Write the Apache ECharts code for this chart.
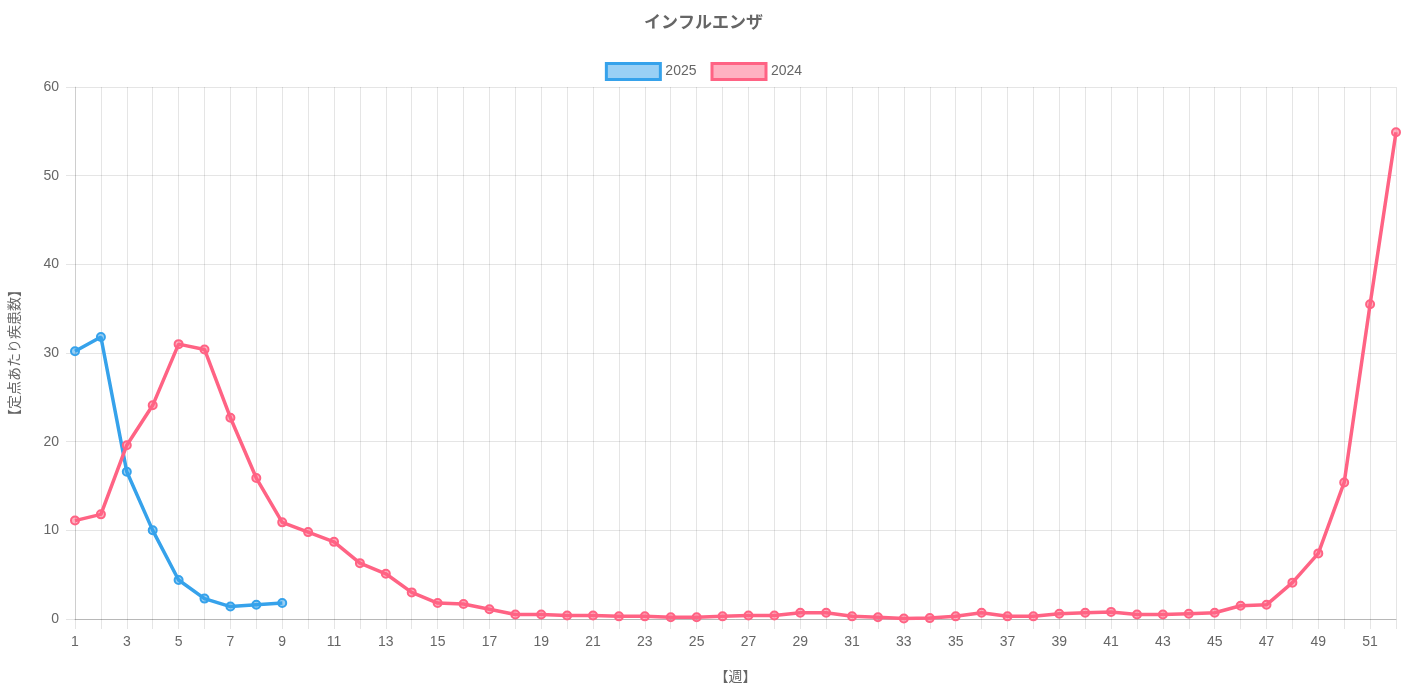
<!DOCTYPE html>
<html>
<head>
<meta charset="utf-8">
<title>インフルエンザ</title>
<script src="https://cdn.jsdelivr.net/npm/echarts@6/dist/echarts.min.js"></script>
<style>
  html, body { margin: 0; padding: 0; background: #fff; overflow: hidden; }
  #chart { width: 1407px; height: 689px; }
</style>
</head>
<body>
<div id="chart"></div>
<script>
// weeks 1..52
const weeks = Array.from({ length: 52 }, (_, i) => String(i + 1))

const flu2025 = [30.2, 31.8, 16.6, 10.0, 4.4, 2.3, 1.4, 1.6, 1.8]

const flu2024 = [
  11.1, 11.8, 19.6, 24.1, 31.0, 30.4, 22.7, 15.9, 10.9, 9.8,
  8.7, 6.3, 5.1, 3.0, 1.8, 1.7, 1.1, 0.5, 0.5, 0.4,
  0.4, 0.3, 0.3, 0.2, 0.2, 0.3, 0.4, 0.4, 0.7, 0.7,
  0.3, 0.2, 0.05, 0.1, 0.3, 0.7, 0.3, 0.3, 0.6, 0.7,
  0.8, 0.5, 0.5, 0.6, 0.7, 1.5, 1.6, 4.1, 7.4, 15.4,
  35.5, 54.9
]

const blue = 'rgb(54, 162, 235)'
const blueFill = 'rgba(54, 162, 235, 0.5)'
const pink = 'rgb(255, 99, 132)'
const pinkFill = 'rgba(255, 99, 132, 0.5)'
const font = 'Helvetica, Arial, "Liberation Sans", "Noto Sans CJK JP", sans-serif'

function lineSeries (name, data, color, fill) {
  return {
    name,
    type: 'line',
    data,
    symbol: 'circle',
    symbolSize: 8,
    showAllSymbol: true,
    lineStyle: { color, width: 3.5 },
    itemStyle: { color: fill, borderColor: color, borderWidth: 2 },
    emphasis: { disabled: true },
    animation: false
  }
}

const chart = echarts.init(document.getElementById('chart'))
chart.setOption({
  textStyle: { fontFamily: font },
  title: {
    text: 'インフルエンザ',
    left: 'center',
    top: 10,
    textStyle: { color: '#666', fontSize: 17, fontWeight: 'bold', fontFamily: font }
  },
  legend: {
    top: 57,
    left: 'center',
    itemWidth: 54,
    itemHeight: 16,
    itemGap: 14,
    icon: 'rect',
    textStyle: { color: '#666', fontSize: 14, fontFamily: font },
    data: [
      { name: '2025', itemStyle: { color: blueFill, borderColor: blue, borderWidth: 3 } },
      { name: '2024', itemStyle: { color: pinkFill, borderColor: pink, borderWidth: 3 } }
    ]
  },
  grid: { left: 71, right: 11, top: 87, bottom: 62, containLabel: false },
  xAxis: {
    type: 'category',
    data: weeks,
    boundaryGap: false,
    name: '【週】',
    nameLocation: 'middle',
    nameGap: 51,
    nameTextStyle: { color: '#666', fontSize: 14, fontFamily: font },
    axisLine: { lineStyle: { color: 'rgba(0,0,0,0.2)' } },
    axisTick: { show: true, interval: 0, length: 10, lineStyle: { color: 'rgba(0,0,0,0.1)' } },
    axisLabel: { interval: 1, color: '#666', fontSize: 14, margin: 16, fontFamily: font },
    splitLine: { show: true, interval: 0, lineStyle: { color: 'rgba(0,0,0,0.1)' } }
  },
  yAxis: {
    type: 'value',
    min: 0,
    max: 60,
    interval: 10,
    name: '【定点あたり疾患数】',
    nameLocation: 'middle',
    nameGap: 53,
    nameTextStyle: { color: '#666', fontSize: 14, fontFamily: font },
    axisLine: { show: true, lineStyle: { color: 'rgba(0,0,0,0.1)' } },
    axisTick: { show: true, length: 9, lineStyle: { color: 'rgba(0,0,0,0.1)' } },
    axisLabel: { color: '#666', fontSize: 14, margin: 16, fontFamily: font },
    splitLine: { show: true, lineStyle: { color: 'rgba(0,0,0,0.1)' } }
  },
  series: [
    lineSeries('2025', flu2025, blue, blueFill),
    lineSeries('2024', flu2024, pink, pinkFill)
  ]
})
</script>
</body>
</html>
